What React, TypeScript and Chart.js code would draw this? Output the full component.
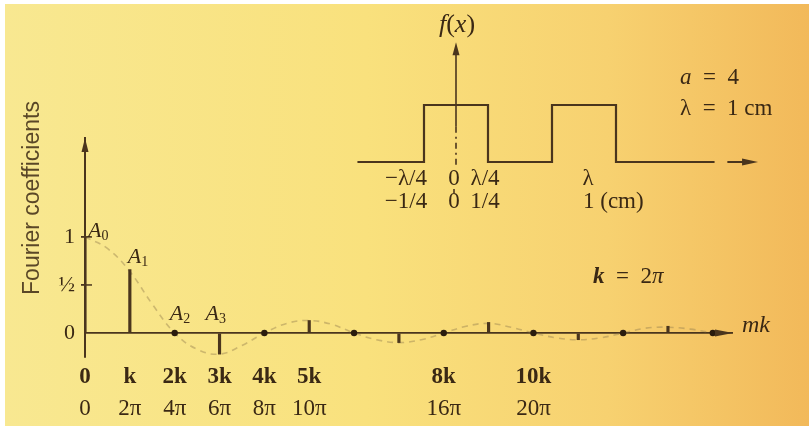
import React, { useEffect, useRef } from "react";
import { Chart, registerables } from "chart.js";
Chart.register(...registerables);

// ---------- data: main spectrum ----------
const stemHarmonics = [0, 1, 3, 5, 7, 9, 11, 13];
const stemCoefficients = [1, 0.66, -0.22, 0.13, -0.1, 0.11, -0.07, 0.07];
const zeroHarmonics = [2, 4, 6, 8, 10, 12, 14];
const zeroCoefficients = [0, 0, 0, 0, 0, 0, 0];
const envelopeX = [0, 0.5, 1, 1.5, 2, 2.5, 3, 3.5, 4, 4.5, 5, 5.5, 6, 6.5, 7, 7.5, 8, 8.5, 9, 9.5, 10, 10.5, 11, 11.5, 12, 12.5, 13, 13.5, 14];
const envelopeY = [1, 0.88, 0.64, 0.3, 0, -0.17, -0.22, -0.13, 0, 0.1, 0.13, 0.09, 0, -0.07, -0.1, -0.07, 0, 0.07, 0.1, 0.06, 0, -0.05, -0.07, -0.05, 0, 0.05, 0.06, 0.04, 0];
const kTickValues = [0, 1, 2, 3, 4, 5, 8, 10];
const kTickLabels = ["0", "k", "2k", "3k", "4k", "5k", "8k", "10k"];
const piTickLabels = ["0", "2π", "4π", "6π", "8π", "10π", "16π", "20π"];
const yTickValues = [0, 0.5, 1];
const yTickLabels = ["0", "½", "1"];

// ---------- data: inset square wave ----------
const pulseX = [-0.77, -0.25, 0.25, 0.75, 1.25, 2.02];
const pulseY = [0, 1, 0, 1, 0, 0];
const insetTickValues = [-0.25, 0, 0.25, 1];
const insetLambdaLabels = ["−λ/4", "0", "λ/4", "λ"];
const insetCmLabels = ["−1/4", "0", "1/4", "1 (cm)"];

const SERIF = '"Liberation Serif", "DejaVu Serif", serif';
const SANS = '"Liberation Sans", Arial, sans-serif';
const TEXT = "#3a2814";
const LINE = "#4a351d";
const SP = "\u2002";

type Part = { t: string; f: string; dy?: number };
function drawParts(ctx: CanvasRenderingContext2D, parts: Part[], x: number, y: number, align: "left" | "center" | "right") {
  const widths = parts.map((p) => {
    ctx.font = p.f;
    return ctx.measureText(p.t).width;
  });
  const total = widths.reduce((a, b) => a + b, 0);
  let cx = align === "left" ? x : align === "center" ? x - total / 2 : x - total;
  ctx.textBaseline = "middle";
  ctx.textAlign = "left";
  parts.forEach((p, i) => {
    ctx.font = p.f;
    ctx.fillText(p.t, cx, y + (p.dy || 0));
    cx += widths[i];
  });
}

const mainDecor = {
  id: "mainDecor",
  beforeDraw(chart: any) {
    const { ctx, width, height } = chart;
    ctx.save();
    ctx.fillStyle = "#ffffff";
    ctx.fillRect(0, 0, width, height);
    const g = ctx.createLinearGradient(5, 0, width, 0);
    g.addColorStop(0, "#f8e891");
    g.addColorStop(0.45, "#f9e17d");
    g.addColorStop(0.75, "#f7d170");
    g.addColorStop(1, "#f2b95a");
    ctx.fillStyle = g;
    ctx.fillRect(5, 4, width - 5, height - 4);
    ctx.restore();
  },
  afterDraw(chart: any) {
    const { ctx, chartArea } = chart;
    const x = chart.scales.x;
    const y = chart.scales.y;
    const x0 = x.getPixelForValue(0);
    const y0 = y.getPixelForValue(0);
    ctx.save();
    ctx.fillStyle = LINE;
    ctx.strokeStyle = LINE;
    // y-axis arrowhead
    const top = chartArea.top;
    ctx.beginPath();
    ctx.moveTo(x0, top);
    ctx.lineTo(x0 - 3.5, top + 14);
    ctx.lineTo(x0 + 3.5, top + 14);
    ctx.closePath();
    ctx.fill();
    // x-axis arrowhead
    const right = chartArea.right;
    ctx.beginPath();
    ctx.moveTo(right, y0);
    ctx.lineTo(right - 18, y0 - 3.5);
    ctx.lineTo(right - 18, y0 + 3.5);
    ctx.closePath();
    ctx.fill();
    // tick marks crossing the y axis (right part)
    ctx.lineWidth = 1.5;
    [0.5, 1].forEach((v) => {
      const py = y.getPixelForValue(v);
      ctx.beginPath();
      ctx.moveTo(x0, py);
      ctx.lineTo(x0 + 7, py);
      ctx.stroke();
    });
    // coefficient labels
    ctx.fillStyle = TEXT;
    const Af = `italic 22px ${SERIF}`;
    const sub = `14px ${SERIF}`;
    drawParts(ctx, [{ t: "A", f: Af }, { t: "0", f: sub, dy: 5 }], x0 + 3, y.getPixelForValue(1) - 6, "left");
    drawParts(ctx, [{ t: "A", f: Af }, { t: "1", f: sub, dy: 5 }], x.getPixelForValue(1) - 2, y.getPixelForValue(0.66) - 12, "left");
    drawParts(ctx, [{ t: "A", f: Af }, { t: "2", f: sub, dy: 5 }], x.getPixelForValue(2) - 5, y0 - 19, "left");
    drawParts(ctx, [{ t: "A", f: Af }, { t: "3", f: sub, dy: 5 }], x.getPixelForValue(3) - 14, y0 - 19, "left");
    // axis name on the right
    drawParts(ctx, [{ t: "mk", f: `italic 24px ${SERIF}` }], right + 9, y0 - 7, "left");
    // k = 2π
    drawParts(
      ctx,
      [
        { t: "k", f: `italic bold 23px ${SERIF}` },
        { t: `${SP}=${SP}2`, f: `23px ${SERIF}` },
        { t: "π", f: `italic 23px ${SERIF}` },
      ],
      593,
      277,
      "left"
    );
    // y title
    ctx.save();
    ctx.translate(33, 198);
    ctx.rotate(-Math.PI / 2);
    ctx.fillStyle = "#5a4727";
    ctx.font = `23px ${SANS}`;
    ctx.textAlign = "center";
    ctx.textBaseline = "middle";
    ctx.fillText("Fourier coefficients", 0, 0);
    ctx.restore();
    ctx.restore();
  },
};

const insetDecor = {
  id: "insetDecor",
  afterDraw(chart: any) {
    const { ctx } = chart;
    const x = chart.scales.x;
    const y = chart.scales.y;
    const x0 = x.getPixelForValue(0);
    const y0 = y.getPixelForValue(0);
    ctx.save();
    ctx.strokeStyle = LINE;
    ctx.fillStyle = LINE;
    ctx.lineWidth = 1.6;
    const tip = y.getPixelForValue(2.1);
    ctx.beginPath();
    ctx.moveTo(x0, y.getPixelForValue(0.62));
    ctx.lineTo(x0, tip + 8);
    ctx.stroke();
    ctx.beginPath();
    ctx.moveTo(x0, tip);
    ctx.lineTo(x0 - 3.5, tip + 13);
    ctx.lineTo(x0 + 3.5, tip + 13);
    ctx.closePath();
    ctx.fill();
    ctx.setLineDash([6, 4, 2, 4]);
    ctx.beginPath();
    ctx.moveTo(x0, y.getPixelForValue(0.62));
    ctx.lineTo(x0, y.getPixelForValue(-0.12));
    ctx.stroke();
    ctx.setLineDash([]);
    ctx.beginPath();
    ctx.moveTo(x0 - 2, y0 + 27);
    ctx.lineTo(x0 - 2, y0 + 31);
    ctx.stroke();
    // right arrow on baseline
    const ax1 = x.getPixelForValue(2.12);
    const ax2 = x.getPixelForValue(2.36);
    ctx.lineWidth = 2;
    ctx.beginPath();
    ctx.moveTo(ax1, y0);
    ctx.lineTo(ax2 - 10, y0);
    ctx.stroke();
    ctx.beginPath();
    ctx.moveTo(ax2, y0);
    ctx.lineTo(ax2 - 16, y0 - 3.5);
    ctx.lineTo(ax2 - 16, y0 + 3.5);
    ctx.closePath();
    ctx.fill();
    // texts
    ctx.fillStyle = TEXT;
    const F = `23px ${SERIF}`;
    drawParts(ctx, [{ t: "f", f: `italic 26px ${SERIF}` }, { t: "(", f: `26px ${SERIF}` }, { t: "x", f: `italic 26px ${SERIF}` }, { t: ")", f: `26px ${SERIF}` }], x0 + 1, tip - 17, "center");
    const dx = [-18, -2, -3, 4];
    insetTickValues.forEach((v, i) => {
      const px = x.getPixelForValue(v) + dx[i];
      drawParts(ctx, [{ t: insetLambdaLabels[i], f: F }], px, y0 + 17, "center");
      if (i === 3) {
        drawParts(ctx, [{ t: insetCmLabels[i], f: F }], px - 5, y0 + 40, "left");
      } else {
        drawParts(ctx, [{ t: insetCmLabels[i], f: F }], px, y0 + 40, "center");
      }
    });
    const lx = x.getPixelForValue(1.75);
    drawParts(ctx, [{ t: "a", f: `italic 23px ${SERIF}` }, { t: `${SP}=${SP}4`, f: F }], lx, y.getPixelForValue(1.47), "left");
    drawParts(ctx, [{ t: `λ${SP}=${SP}1 cm`, f: F }], lx, y.getPixelForValue(0.93), "left");
    ctx.restore();
  },
};

export default function App() {
  const mainRef = useRef<HTMLCanvasElement>(null);
  const insetRef = useRef<HTMLCanvasElement>(null);

  useEffect(() => {
    const tickFont = (bold: boolean) => ({ family: SERIF, size: 23, weight: bold ? ("bold" as const) : ("normal" as const) });
    const xCommon = (labels: string[], bold: boolean, weight: number, height: number, padding: number) => ({
      type: "linear" as const,
      min: 0,
      max: 14.45,
      position: "bottom" as const,
      offset: false,
      weight,
      grid: { display: false, drawTicks: false },
      border: { display: false },
      afterBuildTicks: (s: any) => {
        s.ticks = kTickValues.map((v) => ({ value: v }));
      },
      afterFit: (s: any) => {
        s.height = height;
      },
      ticks: {
        autoSkip: false,
        maxRotation: 0,
        padding,
        color: TEXT,
        font: tickFont(bold),
        callback: (v: any) => {
          const i = kTickValues.indexOf(Number(v));
          return i >= 0 ? labels[i] : "";
        },
      },
    });

    const main = new Chart(mainRef.current!, {
      type: "line",
      data: {
        datasets: [
          {
            type: "bar" as const,
            label: "odd coefficients",
            data: stemHarmonics.map((m, i) => ({ x: m, y: stemCoefficients[i] })) as any,
            backgroundColor: LINE,
            barThickness: 2.5,
            order: 1,
          },
          {
            type: "line" as const,
            label: "even coefficients",
            data: zeroHarmonics.map((m, i) => ({ x: m, y: zeroCoefficients[i] })),
            showLine: false,
            pointRadius: 3.2,
            pointBackgroundColor: "#2a1c0e",
            pointBorderWidth: 0,
            order: 0,
          },
          {
            type: "line" as const,
            label: "envelope",
            data: envelopeX.map((m, i) => ({ x: m, y: envelopeY[i] })),
            borderColor: "rgba(150,128,80,0.45)",
            borderWidth: 1.6,
            borderDash: [6, 5],
            pointRadius: 0,
            tension: 0.4,
            order: 2,
          },
        ],
      },
      options: {
        animation: false,
        responsive: false,
        devicePixelRatio: 1,
        layout: { padding: { top: 138, right: 76, left: 0, bottom: 0 } },
        plugins: { legend: { display: false }, tooltip: { enabled: false }, title: { display: false } },
        scales: {
          x: xCommon(kTickLabels, true, 0, 34, 6),
          x2: xCommon(piTickLabels, false, 1, 35, 4),
          y: {
            type: "linear",
            min: -0.25,
            max: 2.03,
            afterBuildTicks: (s: any) => {
              s.ticks = yTickValues.map((v) => ({ value: v }));
            },
            afterFit: (s: any) => {
              s.width = 85;
            },
            grid: {
              color: (c: any) => (c.tick && c.tick.value === 0 ? LINE : "rgba(0,0,0,0)"),
              tickColor: (c: any) => (c.tick && c.tick.value === 0 ? "rgba(0,0,0,0)" : LINE),
              tickLength: 4,
              lineWidth: 1.8,
            },
            border: { color: LINE, width: 2 },
            ticks: {
              padding: 6,
              color: TEXT,
              font: { family: SERIF, size: 22 },
              callback: (v: any) => {
                const i = yTickValues.indexOf(Number(v));
                return i >= 0 ? yTickLabels[i] : "";
              },
            },
          },
        },
      },
      plugins: [mainDecor],
    });

    const inset = new Chart(insetRef.current!, {
      type: "line",
      data: {
        datasets: [
          {
            label: "f(x)",
            data: pulseX.map((v, i) => ({ x: v, y: pulseY[i] })),
            stepped: true,
            borderColor: LINE,
            borderWidth: 2.2,
            pointRadius: 0,
          },
        ],
      },
      options: {
        animation: false,
        responsive: false,
        devicePixelRatio: 1,
        layout: { padding: { left: 13.6, right: 45.8, top: 36.6, bottom: 45.2 } },
        plugins: { legend: { display: false }, tooltip: { enabled: false } },
        scales: {
          x: { type: "linear", min: -0.8, max: 2.4, display: false },
          y: { type: "linear", min: -0.4, max: 2.2, display: false },
        },
      },
      plugins: [insetDecor],
    });

    return () => {
      main.destroy();
      inset.destroy();
    };
  }, []);

  return (
    <div style={{ position: "absolute", left: 0, top: 0, width: 809, height: 426 }}>
      <canvas ref={mainRef} width={809} height={426} style={{ position: "absolute", left: 0, top: 0 }} />
      <canvas ref={insetRef} width={469} height={230} style={{ position: "absolute", left: 340, top: 0 }} />
    </div>
  );
}
